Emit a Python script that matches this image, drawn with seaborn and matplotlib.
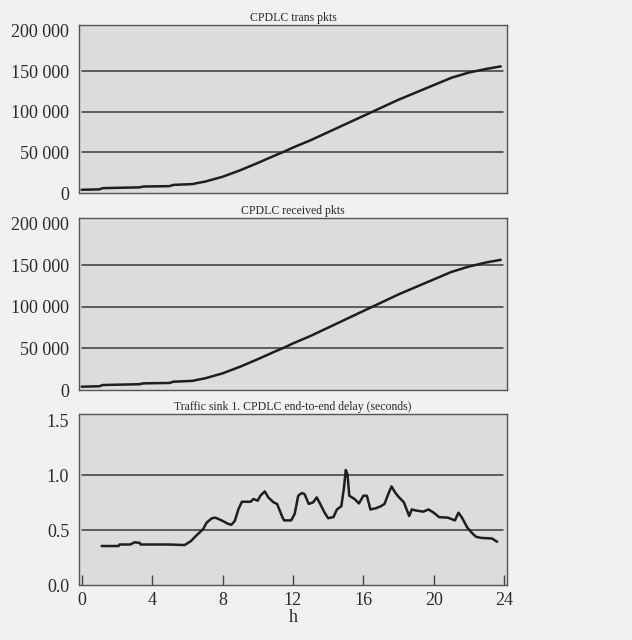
import numpy as np
import pandas as pd
import matplotlib
matplotlib.use("Agg")
import matplotlib.pyplot as plt
import seaborn as sns

# ---- data ----
hours_pkts = [0, 1.0, 1.2, 3.3, 3.5, 5.0, 5.2, 6.3, 6.5, 7.0, 8.0, 9.0, 10.0, 11.0,
              11.5, 12.0, 13.0, 14.0, 15.0, 16.0, 16.5, 17.0, 18.0, 19.0, 20.0,
              21.0, 22.0, 23.0, 23.8]
trans_pkts = [4000, 4500, 6000, 7000, 8000, 8500, 10000, 11000, 12000, 14000, 20000,
              28000, 37000, 46500, 51000, 56000, 65000, 75000, 85000, 95000, 100000,
              105000, 115000, 124000, 133000, 142000, 148500, 153000, 156000]
received_pkts = [4000, 4500, 6000, 7000, 8000, 8500, 10000, 11000, 12000, 14000, 20000,
                 28000, 37000, 46500, 51000, 56000, 65000, 75000, 85000, 95000, 100000,
                 105000, 115000, 124000, 133000, 142000, 148500, 153500, 156500]

hours_delay = [1.14, 2.1, 2.15, 2.76, 3.0, 3.3, 3.35, 4.9, 5.85, 6.2, 6.5, 6.9, 7.1, 7.4,
               7.6, 7.95, 8.3, 8.5, 8.7, 8.9, 9.1, 9.6, 9.75, 10.0, 10.15, 10.4, 10.6,
               10.9, 11.1, 11.4, 11.5, 11.9, 12.1, 12.3, 12.5, 12.66, 12.9, 13.15,
               13.35, 13.55, 13.8, 14.0, 14.3, 14.5, 14.75, 14.9, 15.0, 15.1, 15.2,
               15.5, 15.75, 16.0, 16.2, 16.4, 16.7, 17.0, 17.2, 17.45, 17.6, 17.8,
               18.0, 18.3, 18.6, 18.75, 19.0, 19.4, 19.7, 20.0, 20.3, 20.8, 21.2,
               21.4, 21.6, 21.9, 22.2, 22.4, 22.7, 23.3, 23.6]
delay_s = [0.356, 0.356, 0.37, 0.37, 0.39, 0.385, 0.37, 0.37, 0.365, 0.40, 0.45, 0.51,
           0.57, 0.61, 0.615, 0.59, 0.56, 0.55, 0.585, 0.69, 0.76, 0.76, 0.785, 0.77,
           0.815, 0.855, 0.80, 0.755, 0.74, 0.62, 0.59, 0.59, 0.65, 0.815, 0.84, 0.83,
           0.74, 0.755, 0.80, 0.74, 0.66, 0.61, 0.62, 0.69, 0.72, 0.89, 1.05, 1.01,
           0.815, 0.785, 0.745, 0.815, 0.815, 0.69, 0.70, 0.72, 0.74, 0.845, 0.90,
           0.845, 0.805, 0.755, 0.63, 0.69, 0.68, 0.67, 0.69, 0.66, 0.62, 0.615, 0.59,
           0.66, 0.615, 0.525, 0.47, 0.44, 0.43, 0.425, 0.395]

titles = ["CPDLC trans pkts", "CPDLC received pkts",
          "Traffic sink 1. CPDLC end-to-end delay (seconds)"]
pkt_ticks = [0, 50000, 100000, 150000, 200000]
pkt_ticklabels = ["0", "50 000", "100 000", "150 000", "200 000"]
delay_ticks = [0.0, 0.5, 1.0, 1.5]
delay_ticklabels = ["0.0", "0.5", "1.0", "1.5"]
x_ticks = [0, 4, 8, 12, 16, 20, 24]
x_label = "h"

# ---- style ----
sns.set_theme(style="white")
plt.rcParams['font.family'] = ['Liberation Serif', 'DejaVu Serif']

FIG_BG = "#f1f1f0"
AX_BG = "#dcdcdd"
LINE = "#1e1e1e"
GRID = "#3a3a3a"
TEXT = "#2a2a2a"

fig = plt.figure(figsize=(6.32, 6.40), dpi=100, facecolor=FIG_BG)

left, width = 0.125, 0.677
ax1 = fig.add_axes([left, 0.6984, width, 0.2625])
ax2 = fig.add_axes([left, 0.3906, width, 0.269])
ax3 = fig.add_axes([left, 0.0859, width, 0.267])

df1 = pd.DataFrame({"h": hours_pkts, "v": trans_pkts})
df2 = pd.DataFrame({"h": hours_pkts, "v": received_pkts})
df3 = pd.DataFrame({"h": hours_delay, "v": delay_s})

for ax, df in [(ax1, df1), (ax2, df2), (ax3, df3)]:
    ax.set_facecolor(AX_BG)
    sns.lineplot(data=df, x="h", y="v", ax=ax, color=LINE, linewidth=1.8)
    ax.set_xlim(-0.15, 24.15)
    ax.set_xlabel("")
    ax.set_ylabel("")
    for sp in ax.spines.values():
        sp.set_color("#555555")
        sp.set_linewidth(1.0)
    ax.grid(False)

for ax, t in zip([ax1, ax2], titles[:2]):
    ax.set_ylim(0, 207000)
    ax.set_yticks(pkt_ticks)
    ax.set_yticklabels(pkt_ticklabels)
    ax.set_xticks([])
    for v in pkt_ticks[1:-1]:
        ax.axhline(v, xmin=0.008, xmax=0.992, color=GRID, linewidth=1.1, zorder=1)
    ax.set_title(t, fontsize=8.5, pad=3, color=TEXT)
    ax.tick_params(axis="y", length=0, pad=7, labelsize=13, labelcolor=TEXT)

ax3.set_ylim(0, 1.56)
ax3.set_yticks(delay_ticks)
ax3.set_yticklabels(delay_ticklabels)
for v in [0.5, 1.0]:
    ax3.axhline(v, xmin=0.008, xmax=0.992, color=GRID, linewidth=1.1, zorder=1)
ax3.set_title(titles[2], fontsize=8.5, pad=3, color=TEXT)
ax3.tick_params(axis="y", length=0, pad=7, labelsize=13, labelcolor=TEXT)
ax3.set_xticks(x_ticks)
ax3.set_xticklabels([str(v) for v in x_ticks])
ax3.tick_params(axis="x", direction="in", length=7, width=1.0, color="#444444",
                labelsize=13, pad=5, bottom=True, labelcolor=TEXT)
ax3.set_xlabel(x_label, fontsize=13, labelpad=0, color=TEXT)

fig.savefig("out.png", dpi=100, facecolor=FIG_BG)
